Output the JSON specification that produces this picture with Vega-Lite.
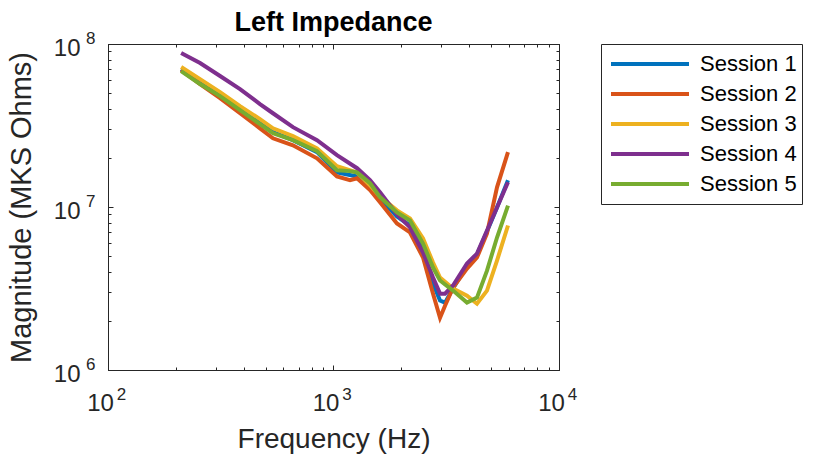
{
  "$schema": "https://vega.github.io/schema/vega-lite/v6.json",
  "width": 451,
  "height": 326,
  "autosize": {"type": "none"},
  "padding": {"left": 108, "top": 44, "right": 258, "bottom": 89},
  "background": "white",
  "title": {"text": "Left Impedance", "font": "Liberation Sans", "fontSize": 27, "fontWeight": "bold", "color": "black", "offset": -8, "anchor": "middle"},
  "config": {
    "view": {"stroke": "#262626", "strokeWidth": 1},
    "axis": {"grid": false, "labelFlush": false, "domainColor": "#262626", "tickColor": "#262626", "labelColor": "#262626", "titleColor": "#262626", "labelFont": "Liberation Sans", "titleFont": "Liberation Sans", "labelFontSize": 24, "titleFontSize": 28, "titleFontWeight": "normal"}
  },
  "data": {"values": [
    {"s": "Session 1", "f": 211, "m": 7.02e7}, {"s": "Session 1", "f": 256, "m": 5.84e7}, {"s": "Session 1", "f": 314, "m": 4.86e7}, {"s": "Session 1", "f": 385, "m": 3.98e7}, {"s": "Session 1", "f": 472, "m": 3.27e7}, {"s": "Session 1", "f": 539, "m": 2.88e7}, {"s": "Session 1", "f": 661, "m": 2.57e7}, {"s": "Session 1", "f": 845, "m": 2.17e7}, {"s": "Session 1", "f": 1036, "m": 1.63e7}, {"s": "Session 1", "f": 1272, "m": 1.54e7}, {"s": "Session 1", "f": 1452, "m": 1.34e7}, {"s": "Session 1", "f": 1608, "m": 1.13e7}, {"s": "Session 1", "f": 1912, "m": 8.76e6}, {"s": "Session 1", "f": 2184, "m": 7.70e6}, {"s": "Session 1", "f": 2495, "m": 5.56e6}, {"s": "Session 1", "f": 2763, "m": 3.39e6}, {"s": "Session 1", "f": 2967, "m": 2.67e6}, {"s": "Session 1", "f": 3123, "m": 2.59e6}, {"s": "Session 1", "f": 3388, "m": 3.16e6}, {"s": "Session 1", "f": 3908, "m": 4.37e6}, {"s": "Session 1", "f": 4328, "m": 5.11e6}, {"s": "Session 1", "f": 4794, "m": 7.08e6}, {"s": "Session 1", "f": 5310, "m": 9.94e6}, {"s": "Session 1", "f": 5940, "m": 1.46e7},
    {"s": "Session 2", "f": 211, "m": 6.92e7}, {"s": "Session 2", "f": 256, "m": 5.68e7}, {"s": "Session 2", "f": 314, "m": 4.66e7}, {"s": "Session 2", "f": 385, "m": 3.76e7}, {"s": "Session 2", "f": 472, "m": 3.04e7}, {"s": "Session 2", "f": 539, "m": 2.64e7}, {"s": "Session 2", "f": 661, "m": 2.39e7}, {"s": "Session 2", "f": 845, "m": 1.99e7}, {"s": "Session 2", "f": 1036, "m": 1.54e7}, {"s": "Session 2", "f": 1184, "m": 1.46e7}, {"s": "Session 2", "f": 1272, "m": 1.50e7}, {"s": "Session 2", "f": 1452, "m": 1.27e7}, {"s": "Session 2", "f": 1608, "m": 1.07e7}, {"s": "Session 2", "f": 1912, "m": 7.93e6}, {"s": "Session 2", "f": 2184, "m": 6.98e6}, {"s": "Session 2", "f": 2495, "m": 4.90e6}, {"s": "Session 2", "f": 2763, "m": 2.94e6}, {"s": "Session 2", "f": 2967, "m": 2.09e6}, {"s": "Session 2", "f": 3123, "m": 2.48e6}, {"s": "Session 2", "f": 3388, "m": 3.20e6}, {"s": "Session 2", "f": 3908, "m": 4.19e6}, {"s": "Session 2", "f": 4328, "m": 4.90e6}, {"s": "Session 2", "f": 4794, "m": 6.88e6}, {"s": "Session 2", "f": 5310, "m": 1.32e7}, {"s": "Session 2", "f": 5940, "m": 2.17e7},
    {"s": "Session 3", "f": 211, "m": 7.22e7}, {"s": "Session 3", "f": 256, "m": 6.09e7}, {"s": "Session 3", "f": 314, "m": 5.07e7}, {"s": "Session 3", "f": 385, "m": 4.16e7}, {"s": "Session 3", "f": 472, "m": 3.46e7}, {"s": "Session 3", "f": 539, "m": 3.04e7}, {"s": "Session 3", "f": 661, "m": 2.72e7}, {"s": "Session 3", "f": 845, "m": 2.29e7}, {"s": "Session 3", "f": 1036, "m": 1.78e7}, {"s": "Session 3", "f": 1272, "m": 1.63e7}, {"s": "Session 3", "f": 1452, "m": 1.36e7}, {"s": "Session 3", "f": 1608, "m": 1.16e7}, {"s": "Session 3", "f": 1912, "m": 9.53e6}, {"s": "Session 3", "f": 2184, "m": 8.51e6}, {"s": "Session 3", "f": 2495, "m": 6.41e6}, {"s": "Session 3", "f": 2763, "m": 4.56e6}, {"s": "Session 3", "f": 2967, "m": 3.69e6}, {"s": "Session 3", "f": 3388, "m": 3.16e6}, {"s": "Session 3", "f": 3908, "m": 2.86e6}, {"s": "Session 3", "f": 4328, "m": 2.55e6}, {"s": "Session 3", "f": 4794, "m": 3.07e6}, {"s": "Session 3", "f": 5310, "m": 4.69e6}, {"s": "Session 3", "f": 5940, "m": 7.70e6},
    {"s": "Session 4", "f": 211, "m": 8.80e7}, {"s": "Session 4", "f": 256, "m": 7.64e7}, {"s": "Session 4", "f": 314, "m": 6.36e7}, {"s": "Session 4", "f": 385, "m": 5.29e7}, {"s": "Session 4", "f": 472, "m": 4.28e7}, {"s": "Session 4", "f": 539, "m": 3.76e7}, {"s": "Session 4", "f": 661, "m": 3.09e7}, {"s": "Session 4", "f": 845, "m": 2.57e7}, {"s": "Session 4", "f": 1036, "m": 2.08e7}, {"s": "Session 4", "f": 1272, "m": 1.73e7}, {"s": "Session 4", "f": 1452, "m": 1.46e7}, {"s": "Session 4", "f": 1608, "m": 1.23e7}, {"s": "Session 4", "f": 1912, "m": 9.01e6}, {"s": "Session 4", "f": 2184, "m": 7.49e6}, {"s": "Session 4", "f": 2495, "m": 5.26e6}, {"s": "Session 4", "f": 2763, "m": 3.69e6}, {"s": "Session 4", "f": 2967, "m": 2.94e6}, {"s": "Session 4", "f": 3123, "m": 2.94e6}, {"s": "Session 4", "f": 3388, "m": 3.30e6}, {"s": "Session 4", "f": 3908, "m": 4.50e6}, {"s": "Session 4", "f": 4328, "m": 5.18e6}, {"s": "Session 4", "f": 4794, "m": 7.18e6}, {"s": "Session 4", "f": 5310, "m": 9.94e6}, {"s": "Session 4", "f": 5940, "m": 1.42e7},
    {"s": "Session 5", "f": 211, "m": 6.82e7}, {"s": "Session 5", "f": 256, "m": 5.68e7}, {"s": "Session 5", "f": 314, "m": 4.79e7}, {"s": "Session 5", "f": 385, "m": 3.93e7}, {"s": "Session 5", "f": 472, "m": 3.22e7}, {"s": "Session 5", "f": 539, "m": 2.84e7}, {"s": "Session 5", "f": 661, "m": 2.57e7}, {"s": "Session 5", "f": 845, "m": 2.20e7}, {"s": "Session 5", "f": 1036, "m": 1.68e7}, {"s": "Session 5", "f": 1184, "m": 1.66e7}, {"s": "Session 5", "f": 1272, "m": 1.63e7}, {"s": "Session 5", "f": 1452, "m": 1.40e7}, {"s": "Session 5", "f": 1608, "m": 1.15e7}, {"s": "Session 5", "f": 1912, "m": 9.26e6}, {"s": "Session 5", "f": 2184, "m": 8.27e6}, {"s": "Session 5", "f": 2495, "m": 5.97e6}, {"s": "Session 5", "f": 2763, "m": 4.25e6}, {"s": "Session 5", "f": 2967, "m": 3.54e6}, {"s": "Session 5", "f": 3388, "m": 3.07e6}, {"s": "Session 5", "f": 3908, "m": 2.59e6}, {"s": "Session 5", "f": 4328, "m": 2.78e6}, {"s": "Session 5", "f": 4794, "m": 4.07e6}, {"s": "Session 5", "f": 5310, "m": 6.50e6}, {"s": "Session 5", "f": 5940, "m": 1.02e7}
  ]},
  "resolve": {"axis": {"x": "independent", "y": "independent"}},
  "layer": [
    {
      "mark": {"type": "line", "strokeWidth": 4},
      "encoding": {
        "x": {"field": "f", "type": "quantitative", "scale": {"type": "log", "domain": [100, 10000], "nice": false},
          "axis": {"orient": "bottom", "values": [100, 1000, 10000], "tickSize": -5, "labelPadding": 26, "labelOffset": -8, "labelExpr": "'10'", "title": "Frequency (Hz)", "titlePadding": 10}},
        "y": {"field": "m", "type": "quantitative", "scale": {"type": "log", "domain": [1000000, 100000000], "nice": false},
          "axis": {"orient": "left", "values": [1000000, 10000000, 100000000], "tickSize": -5, "labelPadding": 33, "labelOffset": 4, "labelExpr": "'10'", "title": "Magnitude (MKS Ohms)", "titlePadding": 17, "titleFontSize": 29}},
        "color": {"field": "s", "type": "nominal",
          "scale": {"domain": ["Session 1", "Session 2", "Session 3", "Session 4", "Session 5"], "range": ["#0072BD", "#D95319", "#EDB120", "#7E2F8E", "#77AC30"]},
          "legend": {"orient": "none", "legendX": 493, "legendY": 0, "title": null, "strokeColor": "#262626", "fillColor": "white", "padding": 5,
            "symbolType": "M-1,0H4.2", "symbolSize": 900, "symbolStrokeWidth": 4, "symbolFillColor": "transparent", "symbolOffset": 3,
            "labelFont": "Liberation Sans", "labelFontSize": 22, "labelColor": "black", "labelOffset": 57, "rowPadding": 0, "clipHeight": 30}}
      }
    },
    {
      "mark": {"type": "line", "opacity": 0},
      "encoding": {
        "x": {"field": "f", "type": "quantitative", "axis": {"orient": "bottom", "values": [200, 300, 400, 500, 600, 700, 800, 900, 2000, 3000, 4000, 5000, 6000, 7000, 8000, 9000], "tickSize": -3, "labels": false, "domain": false, "title": null}},
        "y": {"field": "m", "type": "quantitative", "axis": {"orient": "left", "values": [2000000, 3000000, 4000000, 5000000, 6000000, 7000000, 8000000, 9000000, 20000000, 30000000, 40000000, 50000000, 60000000, 70000000, 80000000, 90000000], "tickSize": -3, "labels": false, "domain": false, "title": null}},
        "detail": {"field": "s", "type": "nominal"}
      }
    },
    {
      "mark": {"type": "line", "opacity": 0},
      "encoding": {
        "x": {"field": "f", "type": "quantitative", "axis": {"orient": "top", "values": [100, 1000, 10000], "tickSize": -5, "labels": false, "title": null}},
        "y": {"field": "m", "type": "quantitative", "axis": {"orient": "right", "values": [1000000, 10000000, 100000000], "tickSize": -5, "labels": false, "title": null}},
        "detail": {"field": "s", "type": "nominal"}
      }
    },
    {
      "mark": {"type": "line", "opacity": 0},
      "encoding": {
        "x": {"field": "f", "type": "quantitative", "axis": {"orient": "top", "values": [200, 300, 400, 500, 600, 700, 800, 900, 2000, 3000, 4000, 5000, 6000, 7000, 8000, 9000], "tickSize": -3, "labels": false, "domain": false, "title": null}},
        "y": {"field": "m", "type": "quantitative", "axis": {"orient": "right", "values": [2000000, 3000000, 4000000, 5000000, 6000000, 7000000, 8000000, 9000000, 20000000, 30000000, 40000000, 50000000, 60000000, 70000000, 80000000, 90000000], "tickSize": -3, "labels": false, "domain": false, "title": null}},
        "detail": {"field": "s", "type": "nominal"}
      }
    },
    {
      "mark": {"type": "line", "opacity": 0},
      "encoding": {
        "x": {"field": "f", "type": "quantitative", "axis": {"orient": "bottom", "values": [100, 1000, 10000], "ticks": false, "domain": false, "title": null, "labelFontSize": 17, "labelPadding": 16, "labelOffset": 13, "labelExpr": "format(round(log(datum.value)/LN10), 'd')"}},
        "y": {"field": "m", "type": "quantitative", "axis": {"orient": "left", "values": [1000000, 10000000, 100000000], "ticks": false, "domain": false, "title": null, "labelFontSize": 17, "labelPadding": 13, "labelOffset": -6, "labelExpr": "format(round(log(datum.value)/LN10), 'd')"}},
        "detail": {"field": "s", "type": "nominal"}
      }
    }
  ]
}
